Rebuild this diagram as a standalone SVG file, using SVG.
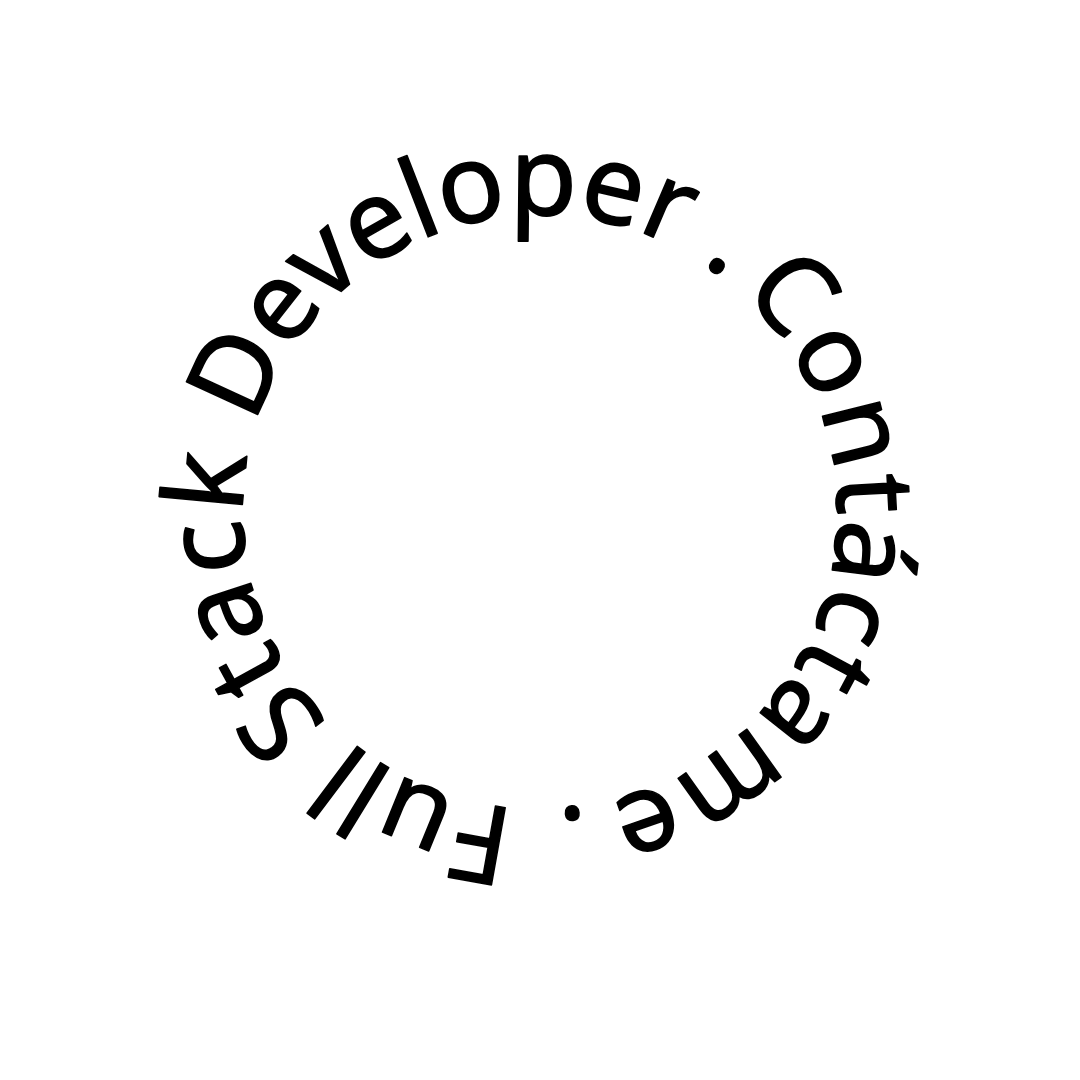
<svg xmlns="http://www.w3.org/2000/svg" xmlns:xlink="http://www.w3.org/1999/xlink" width="1080" height="1080" viewBox="0 0 1080 1080">
  <style>
    .ring { font-family: "Noto Sans", "Liberation Sans", sans-serif; font-size: 110px; font-weight: 400; fill: #000; stroke: #000; stroke-width: 1.5px; stroke-linejoin: round; }
  </style>
  <defs>
    <path id="circ" d="M 540 809 A 297 297 0 1 1 540 215 A 297 297 0 1 1 540 809"/>
  </defs>
  <rect x="0" y="0" width="1080" height="1080" fill="#ffffff"/>
  <g id="ring-text" class="ring" text-anchor="middle">
    <text id="w-full"><textPath href="#circ" xlink:href="#circ" startOffset="115.1" textLength="182" lengthAdjust="spacing">Full</textPath></text>
    <text id="w-stack"><textPath href="#circ" xlink:href="#circ" startOffset="378.4" textLength="290" lengthAdjust="spacing">Stack</textPath></text>
    <text id="w-developer"><textPath href="#circ" xlink:href="#circ" startOffset="814.9" textLength="521" lengthAdjust="spacing">Developer</textPath></text>
    <text id="dot-1"><textPath href="#circ" xlink:href="#circ" startOffset="1118.1">.</textPath></text>
    <text id="w-contactame"><textPath href="#circ" xlink:href="#circ" startOffset="1474.8" textLength="645" lengthAdjust="spacing">Contáctame</textPath></text>
    <text id="dot-2"><textPath href="#circ" xlink:href="#circ" startOffset="1834.0">.</textPath></text>
  </g>
</svg>
